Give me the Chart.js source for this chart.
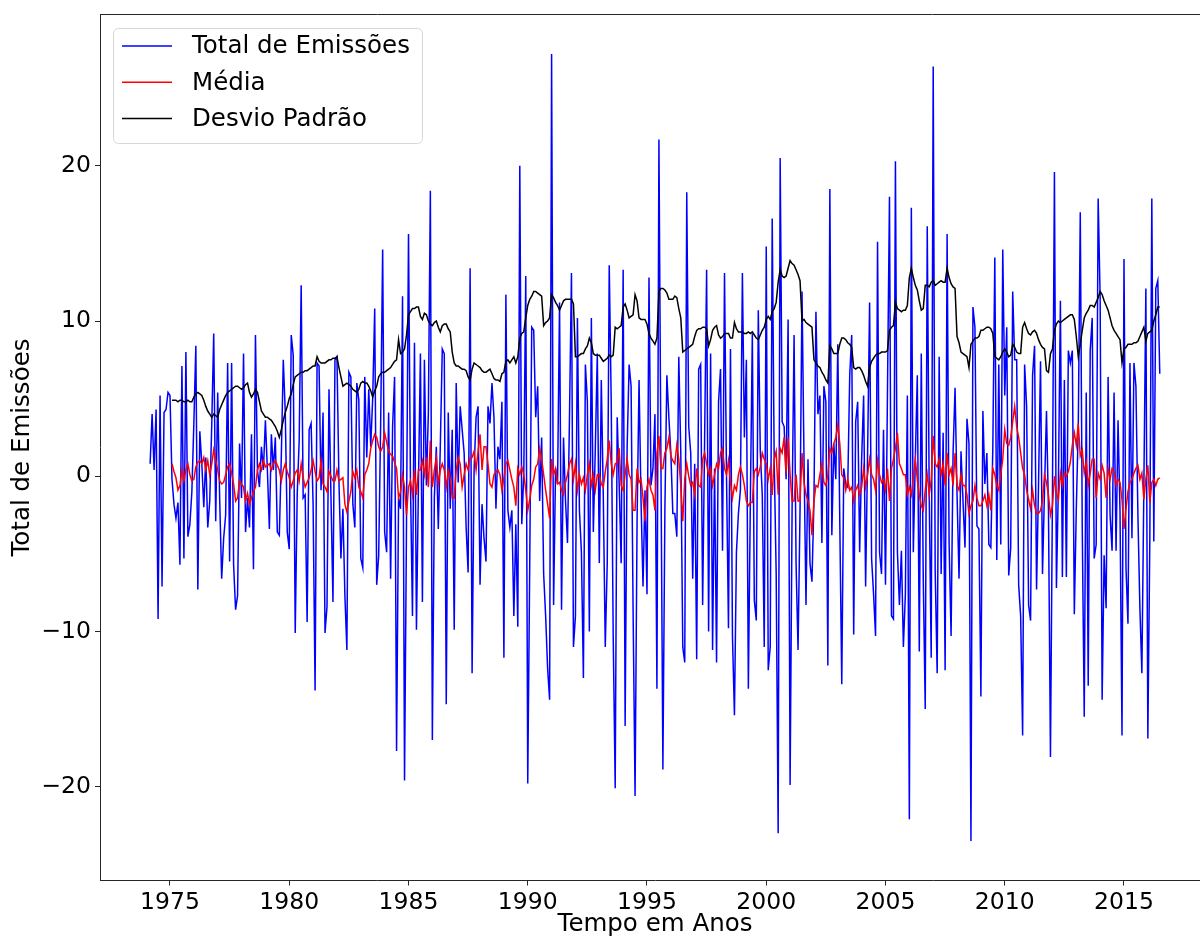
<!DOCTYPE html>
<html>
<head>
<meta charset="utf-8">
<script src="https://cdn.jsdelivr.net/npm/chart.js@4.4.1/dist/chart.umd.min.js"></script>
<style>
  html, body { margin: 0; padding: 0; background: #fff; overflow: hidden; }
  #myChart { display: block; }
</style>
</head>
<body>
<canvas id="myChart" width="1220" height="938"></canvas>
<script>
// serie mensal, de marco de 1974 a julho de 2016
const inicioEmissoes = { ano: 1974, mes: 3 };
const emissoes = [
    0.8, 4.0, 0.4, 4.3, -9.2, 5.2, -7.1, 4.1, 4.3, 5.4,                         // 1974
    5.2, -0.2, -1.8, -2.7, -1.7, -5.7, 7.1, -5.3, 8.0, -3.9, -3.1, -1.0,        // 1975
    3.4, 8.4, -7.3, 2.9, 0.8, -2.0, 1.2, -3.3, -1.6, 3.3, 9.2, -2.9,            // 1976
    5.4, -1.5, -6.6, -4.0, -2.5, 7.3, -5.5, 7.3, -5.7, -8.6, -7.7, 2.1,         // 1977
    -1.4, 7.9, -3.6, -1.4, -3.3, 2.7, -6.0, 9.1, 0.4, -0.7, 1.9, 0.4,           // 1978
    3.6, 0.4, -3.4, 2.7, 0.4, 2.5, -3.6, -3.8, 1.2, 7.5, 4.1, -3.6,             // 1979
    -4.7, 9.1, 7.8, -10.1, -1.2, 2.3, 12.3, -1.4, -1.2, -9.4, 3.0, 3.4,         // 1980
    -1.8, -13.8, 7.3, 7.1, -0.9, 4.1, -10.1, -8.4, 5.6, -1.4, -8.1, 7.5,        // 1981
    7.7, -0.3, -5.3, -2.1, -7.7, -11.2, 6.7, 6.4, -1.8, -3.3, 6.0, 4.9,         // 1982
    -5.3, -5.9, 6.4, 1.2, 5.6, 1.9, 5.1, 10.8, -7.0, -5.1, 3.4, 14.6,           // 1983
    -3.6, -4.9, 4.1, -6.6, 3.2, 6.4, -17.7, -1.4, -2.1, 11.6, -19.6, -3.0,      // 1984
    15.6, -0.6, -9.0, 8.6, -9.9, -0.6, 7.9, -8.1, 7.5, -0.6, 4.1, 18.4,         // 1985
    -17.0, -1.4, 1.9, -3.4, 1.9, 8.2, 7.9, -14.7, 4.1, -2.1, 3.0, -9.9,         // 1986
    6.0, -0.4, 4.5, 3.0, 1.5, -3.3, -6.2, 13.4, -12.7, 0.4, 3.8, 4.5,           // 1987
    -7.0, -1.8, -4.0, -5.5, 4.5, 3.4, 6.0, 3.8, -2.1, 1.9, 1.1, 4.8,            // 1988
    -11.7, 11.7, -2.2, -3.3, -2.2, -9.0, -3.1, -9.7, 20.0, -3.1, 0.1, 12.9,     // 1989
    -19.8, -5.6, 9.6, 9.4, 3.8, 5.8, -1.6, 2.5, -6.3, -9.0, -12.4, -14.4,       // 1990
    27.2, -8.3, 0.5, -0.5, 11.2, -8.6, 2.5, -1.6, -4.3, 3.8, 13.1, -11.0,       // 1991
    -9.0, 10.2, -2.2, -4.9, -13.0, 7.2, 4.8, -10.0, 10.2, -3.6, 1.8, 7.9,       // 1992
    -5.6, 6.2, -1.2, -11.0, -5.6, 13.6, 4.8, -10.3, -20.1, 3.8, -0.5, -5.6,     // 1993
    13.3, -16.1, 1.8, 7.2, 5.8, -8.6, -20.6, -3.0, 6.2, -1.6, -7.1, -0.9,       // 1994
    -7.6, 12.8, -0.6, 0.5, 4.0, -13.7, 21.7, 1.1, -18.9, -2.2, 6.5, 3.8,        // 1995
    1.5, -2.4, -2.4, -3.9, 7.7, 1.5, -11.0, -12.0, 18.3, 3.2, 1.5, -6.6,        // 1996
    0.8, -11.8, 6.9, 7.2, -8.3, 2.5, 13.3, -10.0, 7.9, -11.2, 0.5, -12.0,       // 1997
    4.8, 6.9, -4.8, 13.1, 0.1, -9.8, 8.2, -10.3, -15.4, -4.9, -2.4, -0.9,       // 1998
    13.1, 2.5, 7.5, -13.7, -1.6, 9.2, -8.0, -9.3, 10.7, 1.6, -1.2, -11.0,       // 1999
    14.8, -12.5, -11.0, 16.6, 1.0, -6.3, -23.0, 20.5, 3.5, 3.2, -0.2, 10.1,     // 2000
    -19.9, -2.2, 9.1, -5.6, -11.2, -2.2, 11.9, 1.1, -8.3, 1.1, -5.6, -6.8,      // 2001
    -1.6, 10.6, 4.0, 5.2, -4.3, 5.8, 4.8, -12.2, 18.5, -3.8, 2.1, -0.2,         // 2002
    8.5, -2.9, -13.4, 0.5, -0.5, -0.7, 6.5, 9.1, -10.2, 3.5, 4.8, -4.9,         // 2003
    1.1, 5.2, -7.1, 1.5, 11.2, -5.3, -7.6, -10.3, 15.1, -4.9, -6.3, 3.0,        // 2004
    -7.0, 5.5, 18.0, -9.0, -9.2, 20.3, -4.9, -8.3, -4.8, -11.0, -7.6, 5.2,      // 2005
    -22.1, 17.3, -4.9, 1.1, 6.5, -11.3, 7.9, -6.6, -15.0, 16.1, -1.2, -11.7,    // 2006
    26.4, -6.1, -12.7, 7.7, -6.3, 2.8, -12.5, 15.6, -4.3, -10.3, 1.5, 5.7,      // 2007
    -1.2, -6.6, 1.6, -1.6, -4.6, 3.7, 2.1, -23.5, 10.9, 9.6, -3.2, -3.4,        // 2008
    -14.2, 4.2, -0.5, 1.5, -4.4, -4.6, 1.8, 14.1, -5.4, 7.2, -4.4, 14.6,        // 2009
    5.2, 9.6, -6.4, -4.6, 11.9, 7.5, 7.5, -7.0, -9.0, -16.7, 7.2, 4.5,          // 2010
    -8.3, -9.3, 6.5, 8.4, -7.3, -0.5, 7.4, -6.3, -0.9, 4.2, -2.2, -18.1,        // 2011
    -1.2, 19.6, -7.2, -0.5, 11.3, -6.5, 6.2, -6.5, 8.1, 7.3, 8.1, -8.9,         // 2012
    -2.1, 3.2, 17.0, -3.4, -15.5, 5.4, -13.5, 8.1, 10.2, -5.3, -4.4, 17.9,      // 2013
    11.5, -14.4, -5.1, -8.5, 6.4, -2.5, -4.8, 5.4, -4.8, 3.6, -2.3, -16.7,      // 2014
    14.0, -5.9, -9.5, 7.3, -4.0, 7.3, 5.8, -2.5, -8.5, -12.7, -0.6, 12.1,       // 2015
    -16.9, -4.0, 17.9, -4.2, 12.1, 12.6, 6.6                                    // 2016
];

// janela movel de 12 meses: comeca em fevereiro de 1975
const inicioMovel = { ano: 1975, mes: 2 };
const media = [
    0.8, 0.3, -0.1, -0.9, -0.6, 0.4, -0.3, 0.4, 0.8, 0.1, -0.3,                 // 1975
    -0.2, 0.6, 0.9, 1.0, 0.8, 1.2, 0.4, 1.0, 0.1, 0.8, 1.7, 1.0,                // 1976
    0.4, -0.3, -0.5, -0.4, 0.1, 0.6, 0.8, 0.2, -0.5, -1.6, -1.4, -0.3,          // 1977
    -0.5, -0.7, -1.6, -1.1, -1.8, -1.4, -1.0, -0.7, 0.4, 0.8, 0.4, 1.0,         // 1978
    0.6, 0.7, 0.8, 0.4, 0.8, 1.0, 0.7, 0.4, -0.3, 0.4, 0.8, 0.3,                // 1979
    -0.1, -0.7, -0.3, 0.2, 0.4, -0.3, 0.8, -0.1, -0.7, -0.4, -0.1, 0.4,         // 1980
    1.0, 0.3, -0.3, -0.1, 1.0, -0.5, -0.7, -1.0, 0.3, 0.0, -0.3, -0.3,          // 1981
    0.4, -0.3, -0.2, -0.1, -1.8, -2.3, -1.6, -1.0, 0.3, -0.1, 0.4, -0.7,        // 1982
    -1.0, -1.4, 0.1, 0.4, 0.8, 1.8, 2.3, 2.7, 2.5, 1.9, 1.6, 1.9,               // 1983
    2.8, 2.2, 1.6, 1.4, 1.3, 0.9, 0.5, -1.4, -1.0, 0.1, -0.7, -2.5,             // 1984
    -0.7, -0.3, -1.2, 0.4, -1.2, 0.4, 0.4, 1.0, 0.1, 1.2, -0.7, 2.3,            // 1985
    -0.7, 0.4, 1.2, -0.5, 0.4, 0.8, 0.4, -0.7, 0.4, -0.1, -1.4, -1.4,           // 1986
    0.4, 1.2, 0.8, -0.7, 0.1, 0.8, 0.4, 1.2, 1.2, 1.6, 0.4, 1.6,                // 1987
    2.7, 0.4, 1.9, 1.9, 0.8, -0.5, -0.7, 0.1, 0.3, 0.4, 0.1, -0.9,              // 1988
    -0.1, 0.8, 1.0, 0.4, -0.2, -0.7, -1.9, 0.5, 0.1, 0.6, 0.1, -0.9,            // 1989
    -2.2, -1.5, -0.6, -0.2, 0.6, 0.8, 1.8, 1.1, 0.1, -0.9, -1.8, -2.7,          // 1990
    1.1, 0.1, 0.5, -0.5, -0.4, -0.9, -1.2, -0.4, 0.1, 0.8, 1.1, -0.2,           // 1991
    0.8, -0.9, 0.1, -0.5, -0.1, -0.9, 0.1, 0.8, -0.6, 0.1, -0.9, 0.1,           // 1992
    0.1, -0.5, -0.7, 0.3, 1.1, 2.3, 0.8, 0.1, 0.8, 0.9, 1.8, -0.6,              // 1993
    -0.9, 0.1, 1.1, 0.1, -0.2, -2.2, -2.2, 0.5, -0.4, -0.2, -1.4, -2.9,         // 1994
    -0.7, -0.2, -0.9, -1.2, -2.2, 1.5, 2.6, 0.5, 0.5, 1.5, 1.8, 2.5,            // 1995
    1.3, 1.0, 0.8, 2.0, 1.1, -0.6, -2.9, -0.2, 0.8, 0.0, -0.6, -0.4,            // 1996
    -1.2, 0.5, -0.6, -0.7, 1.1, 1.5, 0.8, 0.1, 0.5, -0.6, 0.1, 0.8,             // 1997
    0.5, 1.5, 1.8, 0.5, 0.1, 1.0, -0.4, -1.4, -0.6, -0.9, 0.1, 0.6,             // 1998
    0.1, -0.6, -1.6, -1.9, -1.7, -1.7, 0.3, 0.5, 0.1, 0.6, 1.5, 1.1,            // 1999
    0.8, -0.2, 0.5, -1.2, 1.1, 1.6, -1.2, 1.8, 1.5, 2.5, 0.2, 2.5,              // 2000
    0.1, -1.6, -1.6, 0.1, -1.6, -1.6, 1.5, -0.4, -1.2, -1.6, -2.2, -3.8,        // 2001
    -1.6, -0.6, -0.7, 0.1, 0.8, -0.4, -0.6, 0.1, 1.8, 1.5, 2.1, 2.5,            // 2002
    3.3, 2.1, 0.1, -0.1, -0.9, -0.2, -0.9, -0.7, -1.6, -0.9, -0.6, -1.2,        // 2003
    -0.7, 0.5, -0.7, 0.1, 1.1, 0.1, -0.2, -0.9, 1.0, 0.1, -0.4, -0.2,           // 2004
    -0.9, 0.5, -1.6, 0.5, 1.1, 1.8, 2.8, 0.8, 0.5, 0.1, 0.1, -1.2,              // 2005
    -0.7, -1.2, -0.1, 1.1, -0.2, -1.2, -1.9, -2.2, -0.9, 0.1, -1.2, -0.2,       // 2006
    2.6, 0.8, 0.6, 1.1, 0.1, 0.8, -0.6, 1.5, 0.1, 0.5, -0.6, 1.5,               // 2007
    -0.6, -0.9, 0.1, -0.6, -0.6, -1.2, -2.4, -1.9, -1.6, -0.6, -1.4, -1.9,      // 2008
    -1.9, -1.6, -1.2, -1.9, -1.2, -2.2, 0.5, 0.1, -0.6, -0.9, 0.1, 1.1,         // 2009
    3.0, 2.1, 2.0, 2.5, 3.5, 4.5, 3.2, 2.5, 1.5, 0.5, 0.1, -0.9,                // 2010
    -1.5, -2.1, -0.9, -1.9, -2.4, -2.4, -2.2, -1.6, 0.1, -0.4, -1.2, -2.5,      // 2011
    -1.9, 0.0, -1.1, -1.5, 0.2, -0.6, 0.2, 0.0, 0.3, 0.9, 2.0, 2.8,             // 2012
    2.0, 3.4, 1.3, 1.7, 0.2, 0.9, -0.6, 0.2, 1.1, 1.1, -1.4, 0.2,               // 2013
    -0.2, 0.7, 0.2, -1.4, 0.5, -0.2, 0.5, 0.3, -0.6, -0.2, -0.4, -1.5,          // 2014
    -3.4, -2.1, -1.0, -0.4, -0.2, 0.2, 0.5, 0.7, -0.2, 0.2, -1.5, -0.2,         // 2015
    0.7, -1.7, -0.4, -0.2, -0.6, -0.2, -0.1                                     // 2016
];

const desvio = [
    4.9, 4.9, 4.9, 4.8, 4.9, 4.9, 4.8, 4.8, 4.9, 4.8, 4.8,                      // 1975
    5.1, 5.3, 5.4, 5.3, 5.2, 4.9, 4.5, 4.2, 4.0, 3.8, 4.0, 3.9,                 // 1976
    3.8, 4.3, 4.6, 4.9, 5.2, 5.4, 5.5, 5.6, 5.7, 5.8, 5.8, 5.7,                 // 1977
    5.6, 5.7, 5.9, 6.0, 5.4, 5.1, 5.3, 5.6, 5.4, 4.8, 4.2, 4.0,                 // 1978
    3.8, 3.8, 3.7, 3.6, 3.4, 3.2, 2.9, 2.5, 3.0, 3.6, 4.1, 4.5,                 // 1979
    5.0, 5.3, 5.9, 6.4, 6.5, 6.6, 6.7, 6.7, 6.8, 6.8, 6.9, 7.0,                 // 1980
    7.1, 7.1, 7.7, 7.4, 7.3, 7.3, 7.3, 7.4, 7.5, 7.5, 7.6, 7.6,                 // 1981
    7.7, 7.0, 6.4, 5.8, 5.9, 6.0, 5.9, 5.8, 5.6, 5.5, 5.4, 5.6,                 // 1982
    6.0, 6.1, 6.0, 6.0, 5.8, 5.5, 5.1, 5.5, 5.8, 6.4, 6.6, 6.7,                 // 1983
    6.7, 6.8, 6.9, 7.0, 7.2, 7.4, 7.5, 8.8, 7.9, 8.0, 8.2, 9.1,                 // 1984
    10.4, 10.6, 10.8, 10.8, 10.9, 10.9, 10.3, 10.1, 10.5, 10.4, 10.0, 9.8,      // 1985
    9.7, 9.9, 10.0, 9.6, 9.3, 9.7, 9.8, 9.8, 9.5, 9.3, 8.0, 7.3,                // 1986
    7.1, 7.1, 7.0, 6.9, 6.9, 6.8, 6.4, 6.2, 6.9, 7.3, 7.2, 7.1,                 // 1987
    7.0, 6.8, 6.7, 6.7, 6.8, 6.9, 6.6, 6.3, 6.2, 6.2, 6.1, 6.6,                 // 1988
    6.7, 7.4, 7.5, 7.3, 7.5, 7.7, 7.3, 7.7, 8.9, 9.2, 9.3, 10.2,                // 1989
    11.0, 11.4, 11.6, 11.9, 11.9, 11.8, 11.7, 11.6, 9.7, 9.9, 10.0, 10.2,       // 1990
    11.7, 11.5, 11.2, 11.0, 10.7, 11.0, 11.3, 11.4, 11.4, 11.4, 11.4, 11.1,     // 1991
    7.7, 7.7, 7.8, 7.9, 7.9, 8.2, 8.4, 8.9, 8.6, 7.9, 7.8, 7.8,                 // 1992
    7.8, 7.6, 7.4, 7.5, 7.6, 7.8, 7.7, 7.8, 9.6, 9.5, 9.6, 9.7,                 // 1993
    10.9, 11.1, 10.7, 10.2, 10.3, 10.4, 11.7, 11.3, 10.2, 10.1, 10.1, 10.1,     // 1994
    9.8, 9.2, 8.9, 8.7, 8.5, 8.9, 11.9, 12.1, 12.1, 12.0, 11.8, 11.4,           // 1995
    11.4, 11.4, 11.6, 11.5, 10.8, 10.2, 8.0, 8.1, 8.2, 8.3, 8.4, 8.5,           // 1996
    9.0, 9.4, 9.5, 9.5, 9.6, 9.6, 9.5, 8.4, 8.8, 9.4, 9.6, 9.7,                 // 1997
    9.1, 8.9, 9.0, 9.2, 9.2, 9.2, 8.9, 8.9, 9.9, 9.5, 9.3, 9.3,                 // 1998
    9.3, 9.2, 9.2, 9.3, 9.2, 9.3, 9.1, 8.9, 8.8, 9.1, 9.4, 9.6,                 // 1999
    10.1, 10.3, 10.1, 10.6, 10.8, 11.2, 12.5, 13.3, 12.9, 12.8, 12.9, 13.4,     // 2000
    13.9, 13.7, 13.6, 13.3, 13.0, 12.6, 10.0, 10.1, 9.9, 9.8, 9.7, 9.6,         // 2001
    7.5, 7.3, 7.1, 7.0, 6.7, 6.5, 6.2, 6.0, 8.4, 8.2, 7.9, 7.9,                 // 2002
    7.9, 8.5, 8.9, 8.9, 8.8, 8.6, 8.5, 8.3, 7.0, 6.9, 7.0, 7.0,                 // 2003
    6.8, 6.5, 6.1, 5.8, 7.0, 7.4, 7.6, 7.8, 7.9, 7.9, 8.0, 8.0,                 // 2004
    8.0, 8.1, 9.4, 9.6, 9.7, 11.2, 10.8, 10.7, 10.6, 10.7, 10.7, 11.0,          // 2005
    12.8, 13.4, 12.8, 12.3, 12.0, 11.3, 10.7, 10.8, 12.3, 12.3, 12.2, 12.5,     // 2006
    12.6, 12.3, 12.4, 12.5, 12.6, 12.5, 12.5, 13.4, 12.8, 12.4, 12.2, 12.1,     // 2007
    9.0, 8.6, 8.0, 7.9, 7.8, 7.7, 7.0, 8.5, 8.7, 8.9, 8.9, 9.0,                 // 2008
    9.4, 9.4, 9.5, 9.6, 9.6, 9.5, 9.2, 7.7, 7.6, 7.5, 7.7, 8.0,                 // 2009
    8.2, 8.0, 7.7, 7.8, 8.5, 8.3, 8.0, 7.9, 7.9, 9.6, 9.9, 9.5,                 // 2010
    9.2, 9.1, 9.3, 9.4, 9.2, 8.8, 8.5, 8.3, 8.2, 6.8, 6.7, 7.9,                 // 2011
    8.2, 9.4, 9.8, 10.0, 9.9, 10.0, 10.1, 10.2, 10.3, 10.4, 10.4, 10.1,         // 2012
    9.0, 7.7, 8.5, 9.4, 10.2, 10.5, 10.7, 11.0, 11.0, 10.9, 11.2, 11.5,         // 2013
    11.9, 11.7, 11.3, 11.0, 10.7, 10.2, 9.7, 9.4, 9.2, 9.0, 8.8, 7.3,           // 2014
    8.2, 8.3, 8.5, 8.5, 8.5, 8.6, 8.6, 8.7, 9.0, 9.3, 9.6, 8.7,                 // 2015
    9.2, 9.3, 9.4, 10.0, 10.4, 10.9, 10.9                                       // 2016
];

const anosTicks = [1975, 1980, 1985, 1990, 1995, 2000, 2005, 2010, 2015];
const valoresTicks = [-20, -10, 0, 10, 20];

const series = [
    { label: 'Total de Emissões', cor: 'blue', inicio: inicioEmissoes, valores: emissoes },
    { label: 'Média', cor: 'red', inicio: inicioMovel, valores: media },
    { label: 'Desvio Padrão', cor: 'black', inicio: inicioMovel, valores: desvio },
];

function pontos(inicio, valores) {
    return valores.map((v, i) => ({ x: inicio.ano + (inicio.mes - 1 + i) / 12, y: v }));
}

const fonte = 'DejaVu Sans';
const corEixo = '#262626';

// legenda no canto, igual ao matplotlib, e a borda de cima
const moldura = {
    id: 'moldura',
    afterDraw(chart) {
        const { ctx, chartArea: a } = chart;
        ctx.save();
        ctx.strokeStyle = corEixo;
        ctx.lineWidth = 1;
        ctx.beginPath();
        ctx.moveTo(a.left, a.top);
        ctx.lineTo(a.right, a.top);
        ctx.stroke();

        const x0 = 113, y0 = 28, w = 309, h = 115, r = 5;
        ctx.beginPath();
        ctx.roundRect(x0 + 0.5, y0 + 0.5, w, h, r);
        ctx.fillStyle = 'rgba(255,255,255,0.8)';
        ctx.fill();
        ctx.strokeStyle = '#d6d6d6';
        ctx.stroke();

        ctx.font = '24.5px "' + fonte + '"';
        ctx.textBaseline = 'middle';
        ctx.textAlign = 'left';
        series.forEach((s, i) => {
            const y = 46 + i * 36.2;
            ctx.strokeStyle = s.cor;
            ctx.lineWidth = 1.5;
            ctx.beginPath();
            ctx.moveTo(122, y);
            ctx.lineTo(172, y);
            ctx.stroke();
            ctx.fillStyle = '#000';
            ctx.fillText(s.label, 192, y + 1);
        });
        ctx.restore();
    }
};

const ctx = document.getElementById('myChart');

const config = {
    type: 'line',
    data: {
        datasets: series.map((s, i) => ({
            label: s.label,
            data: pontos(s.inicio, s.valores),
            borderColor: s.cor,
            backgroundColor: s.cor,
            borderWidth: 1.5,
            pointRadius: 0,
            tension: 0,
            fill: false,
            order: series.length - i,
        }))
    },
    options: {
        responsive: false,
        animation: false,
        devicePixelRatio: 1,
        layout: { padding: { top: 14.5, right: 10, bottom: 0, left: 0 } },
        plugins: {
            legend: { display: false },
            tooltip: { enabled: false },
        },
        scales: {
            x: {
                type: 'linear',
                min: 1972.065,
                max: 2018.606,
                afterFit(scale) {
                    scale.height = 57.5;
                    scale.paddingLeft = 0;
                    scale.paddingRight = 0;
                },
                afterBuildTicks(scale) { scale.ticks = anosTicks.map(v => ({ value: v })); },
                grid: { drawOnChartArea: false, drawTicks: true, tickLength: 5, color: corEixo },
                border: { display: true, color: corEixo, width: 1 },
                ticks: {
                    color: '#000',
                    padding: 3,
                    maxRotation: 0,
                    autoSkip: false,
                    font: { family: fonte, size: 23.5 },
                    callback: v => String(v),
                },
                title: {
                    display: true,
                    text: 'Tempo em Anos',
                    color: '#000',
                    padding: { top: 0, bottom: 0 },
                    font: { family: fonte, size: 24.5, lineHeight: 1.05 },
                },
            },
            y: {
                min: -26.05,
                max: 29.75,
                afterFit(scale) {
                    scale.width = 100;
                    scale.paddingTop = 0;
                    scale.paddingBottom = 0;
                },
                afterBuildTicks(scale) { scale.ticks = valoresTicks.map(v => ({ value: v })); },
                grid: { drawOnChartArea: false, drawTicks: true, tickLength: 5, color: corEixo },
                border: { display: true, color: corEixo, width: 1 },
                ticks: {
                    color: '#000',
                    padding: 4,
                    autoSkip: false,
                    font: { family: fonte, size: 23.5 },
                    callback: v => (v < 0 ? '\u2212' + Math.abs(v) : String(v)),
                },
                title: {
                    display: true,
                    text: 'Total de Emissões',
                    color: '#000',
                    padding: { top: 7.6, bottom: 0 },
                    font: { family: fonte, size: 24.5, lineHeight: 1.2 },
                },
            },
        },
    },
    plugins: [moldura],
};

const myChart = new Chart(ctx, config);
</script>
</body>
</html>
